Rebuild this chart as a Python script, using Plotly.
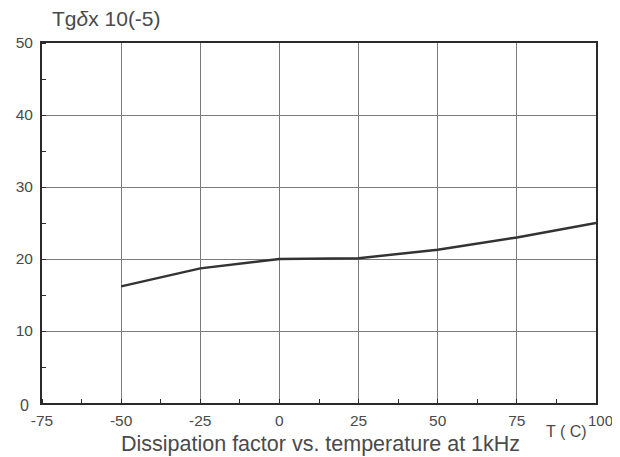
import plotly.graph_objects as go

temps = [-50, -25, 0, 25, 50, 75, 100]
tg_delta = [16.2, 18.7, 20.0, 20.1, 21.3, 23.0, 25.0]
x_ticks = [-75, -50, -25, 0, 25, 50, 75, 100]
y_ticks = [0, 10, 20, 30, 40, 50]

# page body adds an 8px offset; compensate so the plot lands where the reference has it
OFF = 8
W, H = 620, 457
l, t = 42 - OFF, 43 - OFF
r = W - (596 - OFF)
b = H - (403 - OFF)
pw, ph = W - l - r, H - t - b

def px(x):
    return (x - OFF - l) / pw

def py(y):
    return 1 - (y - OFF - t) / ph

font = dict(family="Liberation Sans, Arial, sans-serif", color="#4a4a4a")

fig = go.Figure()
fig.add_trace(go.Scatter(x=temps, y=tg_delta, mode="lines",
                         line=dict(color="#333333", width=2.5), showlegend=False))

fig.update_layout(
    width=W, height=H,
    margin=dict(l=l, r=r, t=t, b=b, autoexpand=False),
    paper_bgcolor="white", plot_bgcolor="white",
    font=dict(size=15, **font),
    xaxis=dict(range=[-75, 100], tickvals=x_ticks,
               ticktext=[str(v) if v != 100 else " " for v in x_ticks],
               showgrid=True, gridcolor="#7a7a7a", gridwidth=1,
               showline=True, linecolor="#2a2a2a", linewidth=2, mirror=True,
               ticks="", zeroline=False, ticklabelstandoff=2, automargin=False,
               minor=dict(dtick=12.5, ticks="inside", ticklen=4, tickcolor="#2a2a2a", showgrid=False),
               tickfont=dict(size=15.5, **font)),
    yaxis=dict(range=[0, 50], tickvals=y_ticks,
               ticktext=[" " if v == 0 else str(v) for v in y_ticks],
               showgrid=True, gridcolor="#7a7a7a", gridwidth=1,
               showline=True, linecolor="#2a2a2a", linewidth=2, mirror=True,
               ticks="", zeroline=False, ticklabelstandoff=4, automargin=False,
               minor=dict(dtick=5, ticks="inside", ticklen=4, tickcolor="#2a2a2a", showgrid=False),
               tickfont=dict(size=15.5, **font)),
)

annots = [
    ("Tg<i>δ</i>x 10(-5)", 50, 18, 21, "left"),
    ("Dissipation factor vs. temperature at 1kHz", 320, 444, 21.5, "center"),
    ("T ( C)", 566, 431, 16, "center"),
    ("100", 600, 420, 15, "center"),
    ("0", 24, 405, 16, "center"),
]
for text, x, y, size, xa in annots:
    fig.add_annotation(text=text, x=px(x), y=py(y), xref="paper", yref="paper",
                       showarrow=False, xanchor=xa, yanchor="middle",
                       font=dict(size=size, **font))

fig.write_html("out.html")
